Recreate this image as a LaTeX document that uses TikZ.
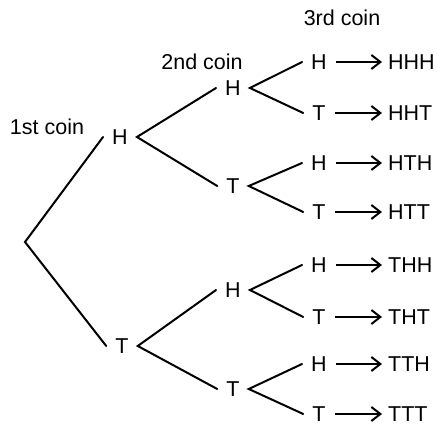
\documentclass[tikz,border=0pt]{standalone}
\usepackage{fontspec}
\setmainfont{Liberation Sans}
\usetikzlibrary{arrows.meta}
\begin{document}
\begin{tikzpicture}[x=1pt,y=-1pt,
  every node/.style={font=\fontsize{21.5}{25}\selectfont},
  coin/.style={inner xsep=9pt,inner ysep=0pt},
  outcome/.style={inner xsep=6pt,inner ysep=0pt,anchor=west},
  heading/.style={inner sep=0pt},
  branch/.style={line width=2pt,line cap=round,line join=miter},
  result/.style={line width=2pt,-{Straight Barb[length=9pt,width=14pt,line width=2pt]}}
]
\useasboundingbox (0,0) rectangle (437,427);
% headings
\node[heading] (c1) at (47,127) {1st coin};
\node[heading] (c2) at (202,62) {2nd coin};
\node[heading] (c3) at (342,18) {3rd coin};
% root
\coordinate (r) at (25,242);
% level 1
\node[coin] (a) at (120,137) {H};
\node[coin] (b) at (122,346) {T};
% level 2
\node[coin] (aa) at (233,88) {H};
\node[coin] (ab) at (233,186) {T};
\node[coin] (ba) at (233,290) {H};
\node[coin] (bb) at (233,389) {T};
% level 3
\node[coin] (aaa) at (319,62) {H};
\node[coin] (aab) at (319,113) {T};
\node[coin] (aba) at (319,163) {H};
\node[coin] (abb) at (319,212) {T};
\node[coin] (baa) at (319,265) {H};
\node[coin] (bab) at (319,317) {T};
\node[coin] (bba) at (319,364) {H};
\node[coin] (bbb) at (319,414) {T};
% outcomes
\node[outcome] (oaaa) at (382,62) {HHH};
\node[outcome] (oaab) at (382,113) {HHT};
\node[outcome] (oaba) at (382,163) {HTH};
\node[outcome] (oabb) at (382,212) {HTT};
\node[outcome] (obaa) at (382,265) {THH};
\node[outcome] (obab) at (382,317) {THT};
\node[outcome] (obba) at (382,364) {TTH};
\node[outcome] (obbb) at (382,414) {TTT};
% branches
\draw[branch] (a.west) -- (r) -- (b.west);
\draw[branch] (aa.west) -- (a.east) -- (ab.west);
\draw[branch] (ba.west) -- (b.east) -- (bb.west);
\draw[branch] (aaa.west) -- (aa.east) -- (aab.west);
\draw[branch] (aba.west) -- (ab.east) -- (abb.west);
\draw[branch] (baa.west) -- (ba.east) -- (bab.west);
\draw[branch] (bba.west) -- (bb.east) -- (bbb.west);
% arrows
\foreach \n in {aaa,aab,aba,abb,baa,bab,bba,bbb}
  \draw[result] (\n.east) -- (o\n.west);
\end{tikzpicture}
\end{document}
